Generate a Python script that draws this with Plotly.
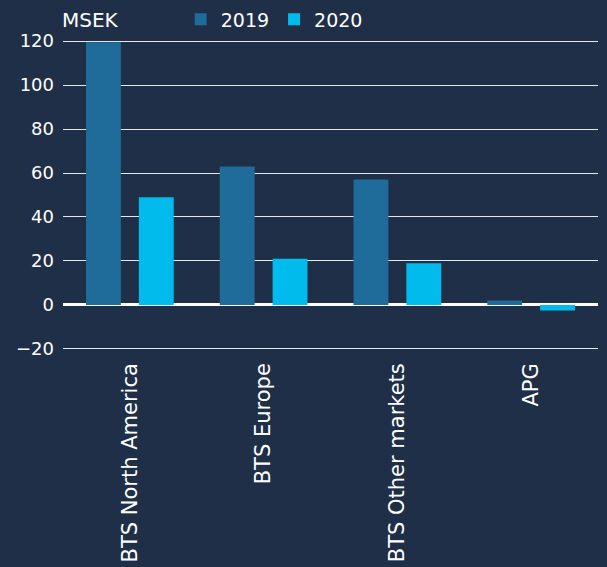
import plotly.graph_objects as go

categories = ["BTS North America", "BTS Europe", "BTS Other markets", "APG"]
values_2019 = [119.5, 63, 57, 2]
values_2020 = [49, 21, 19, -2.5]
y_ticks = [-20, 0, 20, 40, 60, 80, 100, 120]
y_tick_labels = ["\u221220", "0", "20", "40", "60", "80", "100", "120"]

BG = "#1f2f47"
FONT = "DejaVu Sans"

fig = go.Figure()
fig.add_trace(go.Bar(name="2019", x=categories, y=values_2019, marker_color="#1f6b9a", marker_line_width=0))
fig.add_trace(go.Bar(name="2020", x=categories, y=values_2020, marker_color="#00bbec", marker_line_width=0))

fig.update_layout(
    width=607, height=567,
    paper_bgcolor=BG, plot_bgcolor=BG,
    margin=dict(l=63, r=9, t=40, b=217, autoexpand=False),
    barmode="group", bargap=0.21, bargroupgap=0.34,
    font=dict(family=FONT, color="white", size=17),
    showlegend=True,
    legend=dict(orientation="h", x=0.22, xanchor="left", y=1.005, yanchor="bottom",
                font=dict(size=19, color="white"), bgcolor="rgba(0,0,0,0)",
                itemwidth=30, traceorder="normal"),
    annotations=[dict(text="MSEK", xref="paper", yref="paper", x=0, y=1.0,
                      xanchor="left", yanchor="bottom", showarrow=False,
                      font=dict(size=20, color="white"), yshift=6, xshift=-3)],
)
fig.update_xaxes(tickangle=-90, showgrid=False, showline=False, ticks="",
                 ticklabelstandoff=8, tickfont=dict(size=21, color="white"),
                 automargin=False)
fig.update_yaxes(range=[-20.5, 120.5], tickvals=y_ticks, ticktext=y_tick_labels,
                 showgrid=True, gridcolor="#e8e8e8", gridwidth=1,
                 zeroline=True, zerolinecolor="white", zerolinewidth=2.5,
                 showline=False, ticks="", ticklabelstandoff=8,
                 tickfont=dict(size=18, color="white"), automargin=False)

fig.write_html("out.html", config={"displayModeBar": False},
               post_script="document.body.style.margin='0';")
